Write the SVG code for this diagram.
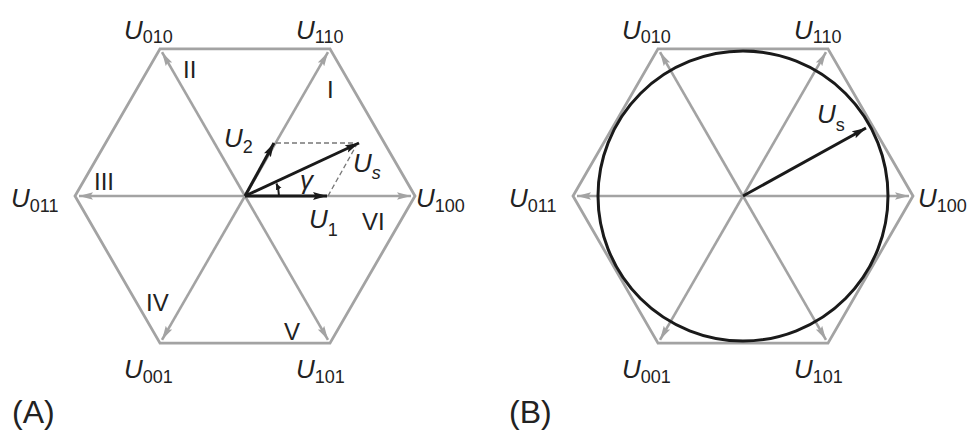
<svg xmlns="http://www.w3.org/2000/svg" width="968" height="430" viewBox="0 0 968 430">
<defs>
<style>
.hex{fill:none;stroke:#a3a3a3;stroke-width:2.8;stroke-linejoin:miter}
.spoke{fill:none;stroke:#a3a3a3;stroke-width:2.6;marker-end:url(#ga)}
.vec{fill:none;stroke:#1a1a1a;stroke-width:3;marker-end:url(#ba)}
.dash{fill:none;stroke:#777;stroke-width:1.3;stroke-dasharray:5 3}
.circ{fill:none;stroke:#1a1a1a;stroke-width:3}
.lab{font-family:"Liberation Sans",Arial,sans-serif;font-size:26px;fill:#222}
.lab .u{font-style:italic}
.lab .sub{font-size:18px}
.num{font-family:"Liberation Sans",Arial,sans-serif;font-size:24px;fill:#222}
.cap{font-family:"Liberation Sans",Arial,sans-serif;font-size:32px;fill:#222}
</style>
<marker id="ga" markerUnits="userSpaceOnUse" markerWidth="15" markerHeight="10" refX="14" refY="4.5" orient="auto">
<path d="M0,0.8 L14,4.5 L0,8.2 L2.5,4.5 z" fill="#a3a3a3"/>
</marker>
<marker id="ba" markerUnits="userSpaceOnUse" markerWidth="16" markerHeight="10" refX="14" refY="4.5" orient="auto">
<path d="M0,0.5 L14,4.5 L0,8.5 L2.5,4.5 z" fill="#1a1a1a"/>
</marker>
<marker id="sa" markerUnits="userSpaceOnUse" markerWidth="8" markerHeight="8" refX="6" refY="3" orient="auto">
<path d="M0,0 L6,3 L0,6 z" fill="#1a1a1a"/>
</marker>
</defs>

<g id="panelA">
<g id="hexA">
<polygon class="hex" points="415,196 330,48.8 160,48.8 75,196 160,343.2 330,343.2"/>
</g>
<g id="connectorsA">
<line class="spoke" x1="245" y1="196" x2="411" y2="196"/>
<line class="spoke" x1="245" y1="196" x2="328" y2="52.2"/>
<line class="spoke" x1="245" y1="196" x2="162" y2="52.2"/>
<line class="spoke" x1="245" y1="196" x2="79" y2="196"/>
<line class="spoke" x1="245" y1="196" x2="162" y2="339.8"/>
<line class="spoke" x1="245" y1="196" x2="328" y2="339.8"/>
<line class="dash" x1="276" y1="143" x2="356" y2="143"/>
<line class="dash" x1="328" y1="196" x2="356" y2="146"/>
<line class="vec" x1="245" y1="196" x2="327" y2="196"/>
<line class="vec" x1="245" y1="196" x2="274" y2="143"/>
<line class="vec" x1="245" y1="196" x2="359" y2="143"/>
<path d="M279,196 A34,34 0 0 0 276.5,183.5" fill="none" stroke="#1a1a1a" stroke-width="2" marker-end="url(#sa)"/>
</g>
<g id="labelsA">
<text class="lab" x="124" y="39"><tspan class="u">U</tspan><tspan class="sub" dy="4">010</tspan></text>
<text class="lab" x="296" y="39"><tspan class="u">U</tspan><tspan class="sub" dy="4">110</tspan></text>
<text class="lab" x="11" y="207"><tspan class="u">U</tspan><tspan class="sub" dy="5">011</tspan></text>
<text class="lab" x="416" y="207"><tspan class="u">U</tspan><tspan class="sub" dy="5">100</tspan></text>
<text class="lab" x="124" y="378"><tspan class="u">U</tspan><tspan class="sub" dy="5">001</tspan></text>
<text class="lab" x="296" y="378"><tspan class="u">U</tspan><tspan class="sub" dy="5">101</tspan></text>
<text class="lab" x="224" y="147"><tspan class="u">U</tspan><tspan class="sub" dy="6">2</tspan></text>
<text class="lab" x="309" y="228"><tspan class="u">U</tspan><tspan class="sub" dy="8">1</tspan></text>
<text class="lab" x="353" y="172"><tspan class="u">U</tspan><tspan class="sub" dy="7" font-style="italic">s</tspan></text>
<text class="lab" x="300" y="189" font-size="21" font-style="italic">γ</text>
<text class="num" x="183" y="78">II</text>
<text class="num" x="327" y="98">I</text>
<text class="num" x="94" y="190">III</text>
<text class="num" x="362" y="230">VI</text>
<text class="num" x="146" y="311">IV</text>
<text class="num" x="284" y="340">V</text>
<text class="cap" x="12" y="423">(A)</text>
</g>
</g>

<g id="panelB">
<g id="hexB">
<polygon class="hex" points="913,196 828,48.8 658,48.8 573,196 658,343.2 828,343.2"/>
</g>
<g id="connectorsB">
<line class="spoke" x1="743" y1="196" x2="909" y2="196"/>
<line class="spoke" x1="743" y1="196" x2="826" y2="52.2"/>
<line class="spoke" x1="743" y1="196" x2="660" y2="52.2"/>
<line class="spoke" x1="743" y1="196" x2="577" y2="196"/>
<line class="spoke" x1="743" y1="196" x2="660" y2="339.8"/>
<line class="spoke" x1="743" y1="196" x2="826" y2="339.8"/>
<circle class="circ" cx="743" cy="196" r="145"/>
<line class="vec" x1="743" y1="196" x2="866" y2="128"/>
</g>
<g id="labelsB">
<text class="lab" x="622" y="39"><tspan class="u">U</tspan><tspan class="sub" dy="4">010</tspan></text>
<text class="lab" x="794" y="39"><tspan class="u">U</tspan><tspan class="sub" dy="4">110</tspan></text>
<text class="lab" x="509" y="207"><tspan class="u">U</tspan><tspan class="sub" dy="5">011</tspan></text>
<text class="lab" x="918" y="207"><tspan class="u">U</tspan><tspan class="sub" dy="5">100</tspan></text>
<text class="lab" x="622" y="378"><tspan class="u">U</tspan><tspan class="sub" dy="5">001</tspan></text>
<text class="lab" x="794" y="378"><tspan class="u">U</tspan><tspan class="sub" dy="5">101</tspan></text>
<text class="lab" x="817" y="123"><tspan class="u">U</tspan><tspan class="sub" dy="8">s</tspan></text>
<text class="cap" x="509" y="423">(B)</text>
</g>
</g>
</svg>
